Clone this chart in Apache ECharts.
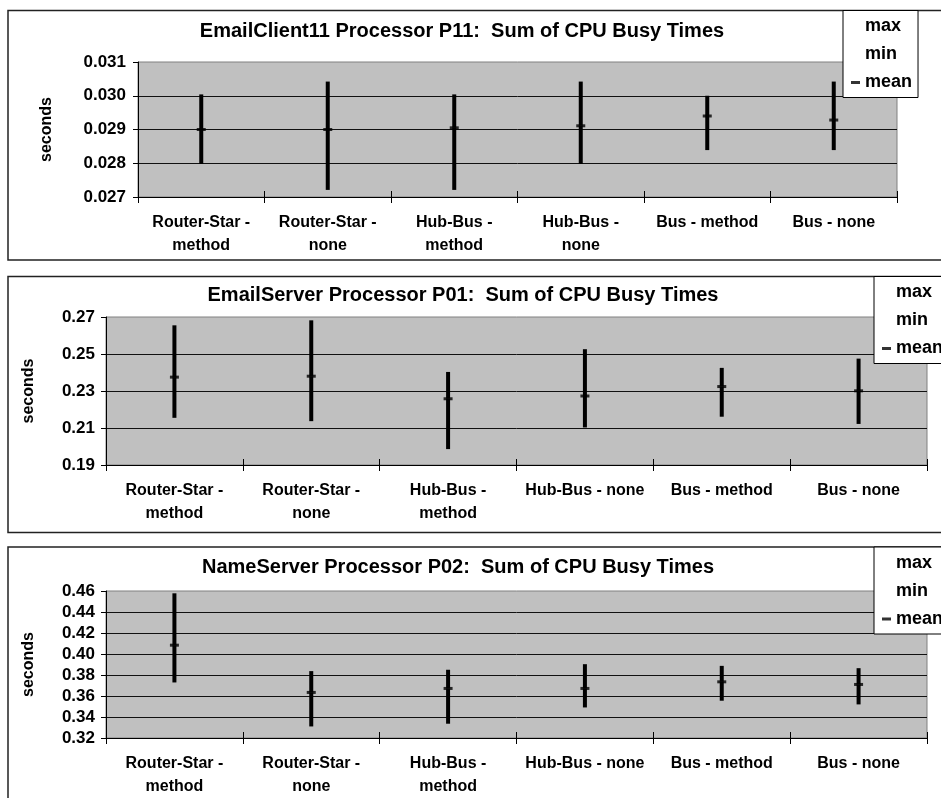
<!DOCTYPE html>
<html>
<head>
<meta charset="utf-8">
<style>
  html, body { margin: 0; padding: 0; background: #fff; }
  #chart { width: 941px; height: 798px; }
</style>
<script src="https://cdn.jsdelivr.net/npm/echarts@6/dist/echarts.min.js"></script>
</head>
<body>
<div id="chart"></div>
<script>
// category labels (line breaks as in the original sheets)
var catsClient = ['Router-Star -\nmethod', 'Router-Star -\nnone', 'Hub-Bus -\nmethod', 'Hub-Bus -\nnone', 'Bus - method', 'Bus - none'];
var catsServer = ['Router-Star -\nmethod', 'Router-Star -\nnone', 'Hub-Bus -\nmethod', 'Hub-Bus - none', 'Bus - method', 'Bus - none'];

var titles = [
  'EmailClient11 Processor P11:  Sum of CPU Busy Times',
  'EmailServer Processor P01:  Sum of CPU Busy Times',
  'NameServer Processor P02:  Sum of CPU Busy Times'
];

// EmailClient11 P11
var clientMax  = [0.03004, 0.03042, 0.03004, 0.03042, 0.03000, 0.03042];
var clientMin  = [0.02798, 0.02721, 0.02721, 0.02798, 0.02839, 0.02839];
var clientMean = [0.02900, 0.02900, 0.02905, 0.02911, 0.02940, 0.02928];
var clientTicks = [0.027, 0.028, 0.029, 0.030, 0.031];

// EmailServer P01
var serverMax  = [0.2655, 0.2682, 0.2403, 0.2526, 0.2425, 0.2475];
var serverMin  = [0.2155, 0.2137, 0.1986, 0.2103, 0.2161, 0.2122];
var serverMean = [0.2375, 0.2380, 0.2258, 0.2273, 0.2324, 0.2301];
var serverTicks = [0.19, 0.21, 0.23, 0.25, 0.27];

// NameServer P02
var nameMax  = [0.4578, 0.3837, 0.3850, 0.3903, 0.3887, 0.3865];
var nameMin  = [0.3729, 0.3310, 0.3336, 0.3491, 0.3555, 0.3520];
var nameMean = [0.4084, 0.3634, 0.3672, 0.3672, 0.3735, 0.3710];
var nameTicks = [0.32, 0.34, 0.36, 0.38, 0.40, 0.42, 0.44, 0.46];

var FONT = 'Arial, "Liberation Sans", sans-serif';

var panels = [
  { cats: catsClient, max: clientMax, min: clientMin, mean: clientMean, ticks: clientTicks, digits: 3,
    grid: { left: 138, top: 62, width: 759, height: 135 }, boxTop: 10.5, boxH: 249.5,
    titleX: 462, titleY: 21, legendX: 843, nameGap: 83, labelMargin: 12 },
  { cats: catsServer, max: serverMax, min: serverMin, mean: serverMean, ticks: serverTicks, digits: 2,
    grid: { left: 106, top: 317, width: 821, height: 148 }, boxTop: 276.5, boxH: 256,
    titleX: 463, titleY: 285, legendX: 874, nameGap: 69, labelMargin: 11 },
  { cats: catsServer, max: nameMax, min: nameMin, mean: nameMean, ticks: nameTicks, digits: 2,
    grid: { left: 106, top: 591, width: 821, height: 147 }, boxTop: 547, boxH: 300,
    titleX: 458, titleY: 557, legendX: 874, nameGap: 69, labelMargin: 11 }
];

// vertical segment from mean to max (or min to mean)
function segment(params, api) {
  var a = api.coord([api.value(0), api.value(1)]);
  var b = api.coord([api.value(0), api.value(2)]);
  return {
    type: 'line',
    shape: { x1: a[0], y1: a[1], x2: b[0], y2: b[1] },
    style: { stroke: '#000', lineWidth: 4 }
  };
}

var option = {
  animation: false,
  backgroundColor: '#fff',
  title: [], legend: [], grid: [], xAxis: [], yAxis: [], series: [], graphic: []
};

panels.forEach(function (p, k) {
  option.graphic.push({
    type: 'rect', silent: true, z: 0,
    shape: { x: 8, y: p.boxTop, width: 960, height: p.boxH },
    style: { fill: 'none', stroke: '#222', lineWidth: 1.5 }
  });

  option.title.push({
    text: titles[k], left: p.titleX, top: p.titleY, textAlign: 'center', padding: 0,
    textStyle: { fontFamily: FONT, fontSize: 20, fontWeight: 'bold', color: '#000', lineHeight: 20 }
  });

  option.legend.push({
    orient: 'vertical', left: p.legendX, top: p.boxTop,
    padding: [6, 6, 5, 8], itemWidth: 9, itemHeight: 3, itemGap: 8,
    backgroundColor: '#fff', borderColor: '#000', borderWidth: 1, borderRadius: 0,
    selectedMode: false, z: 10,
    textStyle: { fontFamily: FONT, fontSize: 18, fontWeight: 'bold', color: '#000', lineHeight: 20 },
    data: [{ name: 'max', icon: 'none' }, { name: 'min', icon: 'none' }, { name: 'mean', icon: 'rect' }]
  });

  option.grid.push({
    left: p.grid.left, top: p.grid.top, width: p.grid.width, height: p.grid.height,
    show: true, backgroundColor: '#c0c0c0', borderColor: '#808080', borderWidth: 1
  });

  option.xAxis.push({
    type: 'category', gridIndex: k, data: p.cats, boundaryGap: true, position: 'bottom',
    axisLine: { lineStyle: { color: '#000', width: 1 } },
    axisTick: { show: true, length: 6, interval: 0, lineStyle: { color: '#000' } },
    axisLabel: { interval: 0, margin: 14, color: '#000', fontFamily: FONT, fontSize: 16,
                 fontWeight: 'bold', lineHeight: 23 }
  });
  // inner half of the crossing category ticks
  option.xAxis.push({
    type: 'category', gridIndex: k, data: p.cats, boundaryGap: true, position: 'bottom', offset: 0,
    axisLine: { show: false }, axisLabel: { show: false },
    axisTick: { show: true, inside: true, length: 6, interval: 0, lineStyle: { color: '#000' } }
  });

  var t = p.ticks;
  option.yAxis.push({
    type: 'value', gridIndex: k,
    min: t[0], max: t[t.length - 1], interval: +(t[1] - t[0]).toFixed(4),
    name: 'seconds', nameLocation: 'middle', nameRotate: 90, nameGap: p.nameGap,
    nameTextStyle: { fontFamily: FONT, fontSize: 16, fontWeight: 'bold', color: '#000' },
    axisLine: { show: true, lineStyle: { color: '#000', width: 1 } },
    axisTick: { show: true, length: 5, lineStyle: { color: '#000' } },
    splitLine: { show: true, showMaxLine: false, lineStyle: { color: '#111', width: 1 } },
    axisLabel: {
      margin: p.labelMargin, color: '#000', fontFamily: FONT, fontSize: 17, fontWeight: 'bold',
      formatter: (function (d) { return function (v) { return v.toFixed(d); }; })(p.digits)
    }
  });

  option.series.push({
    name: 'max', type: 'custom', xAxisIndex: 2 * k, yAxisIndex: k,
    renderItem: segment, encode: { x: 0, y: [1, 2] },
    data: p.max.map(function (v, i) { return [i, v, p.mean[i]]; })
  });
  option.series.push({
    name: 'min', type: 'custom', xAxisIndex: 2 * k, yAxisIndex: k,
    renderItem: segment, encode: { x: 0, y: [1, 2] },
    data: p.min.map(function (v, i) { return [i, v, p.mean[i]]; })
  });
  option.series.push({
    name: 'mean', type: 'scatter', xAxisIndex: 2 * k, yAxisIndex: k,
    symbol: 'rect', symbolSize: [9, 3], z: 5,
    itemStyle: { color: '#000' },
    data: p.mean.map(function (v, i) { return [i, v]; })
  });
});

var myChart = echarts.init(document.getElementById('chart'));
myChart.setOption(option);
window.addEventListener('resize', function () {
  myChart.resize();
});
</script>
</body>
</html>
